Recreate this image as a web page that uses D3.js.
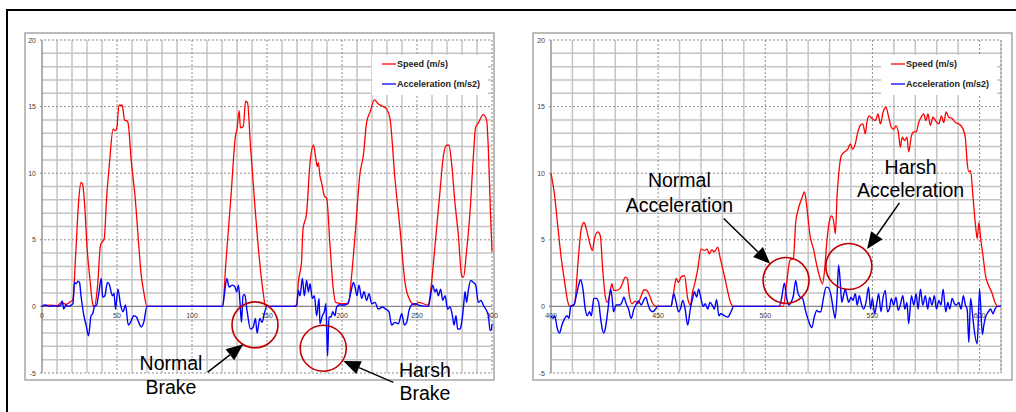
<!DOCTYPE html>
<html>
<head>
<meta charset="utf-8">
<script src="https://cdn.jsdelivr.net/npm/d3@7"></script>
<style>
  body { margin: 0; background: #fff; }
  svg { display: block; }
</style>
</head>
<body>
<script>
// values
const leftSpeed = [[0,0],[5,0.1],[10,0.05],[13,0.3],[16,0.15],[19,0.35],[20.6,0.5],[22.5,4],[24.5,8],[26,9.3],[27,9.2],[28.5,7.5],[30,4.5],[32,2],[34,0.1],[35,0],[37,1.5],[39,4.6],[41.5,5.1],[43,8],[45,10.8],[47.4,13.3],[49,13.2],[50,13.5],[51.3,15.1],[53.5,15.1],[55,14],[57,13.9],[57.5,13.7],[59.6,10.8],[62,8.3],[64.5,4.6],[66,2.5],[67.8,1.1],[70,0],[120.4,0],[122.6,3.3],[126,8.3],[129,12.8],[130,13.3],[131.4,14.7],[132.3,13.4],[134.2,13.5],[135.7,15.4],[137,15.3],[139,12],[142.3,7],[145.6,2.8],[147.5,1],[149,0],[169.8,0],[170.9,1.8],[173,3.3],[174,5.8],[176.4,7],[178.7,10.8],[181,12.1],[182.4,11.2],[183.5,10.5],[184.2,10.8],[185.3,9.8],[186.4,9.3],[188.2,8.3],[189.8,8.1],[192,4.6],[194.2,1.3],[195.8,0.3],[199.8,0.2],[204.2,0.2],[206.4,2.3],[208.7,5.3],[212,10],[214.2,11.3],[216.4,13.8],[218.7,14.6],[221.6,15.5],[224.2,15.2],[227.6,15],[229.8,14.8],[232,14.1],[235.3,9.6],[238.7,5.8],[242,1.8],[245.3,0.45],[248.7,0.1],[251,0.3],[257.6,0.1],[258.7,0.8],[261,3.3],[263,5.8],[265.3,8.6],[267.6,11.3],[269.8,12.1],[271.3,12.1],[273,10.8],[275.3,7.8],[277.6,5.3],[279.8,2.3],[281,2.2],[283,4.1],[285.3,7],[287.6,11.3],[289,13.4],[291,13.8],[294.2,14.4],[296.4,14],[297.5,12],[299,7],[300,4.1]];

const leftAccel = [[0,0],[2,0.1],[5,0],[8,0.05],[11,0],[12.5,0.1],[13.5,0.4],[14.5,-0.2],[16,0.1],[17.3,0],[19.5,0.1],[20.6,0.2],[21.7,1.8],[22.8,1.7],[24,1.9],[25,1.8],[26,0.8],[28.3,-0.9],[29.4,-1.4],[31,-2.2],[32.7,-0.7],[33.8,-0.55],[35,0],[36.4,0.1],[38,1.1],[39.5,2.1],[40.4,0.7],[41.9,0.8],[43.6,1.8],[44.7,1.7],[47,0.8],[48,1.0],[49,-0.2],[50.6,1.3],[52.4,0.1],[54,-0.4],[55.7,0.1],[57.5,-1.4],[59,-1.2],[61.2,-0.7],[63,-0.8],[64.5,-1.2],[66.2,-1.55],[67.8,-1.2],[70,0],[120.4,0],[121.5,0.8],[123.2,2.1],[124.8,1.45],[127,1.6],[128.7,1.45],[129.8,1.1],[131,1.6],[132,0.3],[133,-1.2],[134,0.8],[135.1,0.9],[136.8,-0.4],[139,-1.7],[140.8,-1.55],[142.3,-0.9],[143.4,-2],[145.2,-0.9],[146.7,-1.2],[148.5,-0.4],[150,0],[168,0],[169.8,0.1],[170.9,1.2],[172,0.8],[173.6,2.1],[174.9,0.8],[176.4,1.95],[177.6,1.1],[178.7,1.7],[180.2,0.6],[181.6,0.8],[183.1,-0.7],[184.7,0.6],[185.3,-1.3],[186.9,-0.7],[188.2,-0.4],[189.3,0.2],[189.8,-1.7],[190.4,-3.7],[191.3,-0.8],[192.7,-0.8],[193.8,-0.4],[195.3,-0.7],[196.4,-0.05],[198,0.1],[202,0.1],[204.2,0.3],[206,1.1],[207.6,1.8],[208.7,1.45],[210,0.8],[211.3,1.6],[213.1,0.6],[214.7,1.1],[216.4,0.45],[218,0.95],[219.8,0.2],[222,0.3],[224.2,-0.2],[226.9,-0.05],[229.1,-0.2],[231.3,-0.4],[233.1,-1.4],[235.3,-1.2],[237.6,-1.3],[239.8,-0.55],[241.6,-1.4],[243.1,-1.2],[244.7,-0.3],[246.4,0.1],[248.7,0.2],[251,0.1],[257.6,0],[259,0.8],[260.4,1.6],[262,1.1],[263,1.3],[264.2,0.8],[265.8,1.3],[267.1,0.45],[268.7,0.8],[270.4,-0.2],[272,-0.05],[273.6,-0.7],[274.7,-1.4],[276,-0.7],[277.1,-1.7],[278.7,-1.7],[279.8,-1.2],[281.1,0.1],[282,1.1],[283.1,0.3],[284.2,1.2],[285.8,1.95],[287.6,1.8],[289.1,1.6],[290.9,0.3],[292.7,0.45],[294.2,0.1],[295.8,-0.2],[297.6,-0.7],[298.7,-1.8],[299.5,-1.8],[300,-1.3]];

const rightSpeed = [[400,10],[401.7,8.3],[403.3,5.8],[404.8,3.6],[406.4,1.8],[407.9,0.3],[408.7,0],[410.2,0.1],[411,0.2],[412.6,3.3],[414.1,5.8],[415.4,6.3],[416.5,5.8],[418,4.8],[419.3,4.2],[420.3,5.1],[421.9,5.6],[423,5.3],[424.2,2.6],[425.3,0.8],[426.2,0.3],[427.3,0.8],[428.4,1.7],[429.3,1.2],[430.4,1.2],[432,1.3],[433.5,1.8],[434.6,2.2],[435.6,2.1],[436.6,0.8],[437.7,0.2],[439.3,0.4],[440.5,0.2],[442.1,0.8],[443.5,1.25],[444.7,1.2],[446,0.8],[447.5,0.2],[449,0],[456,0],[457.3,1.1],[458.4,2.1],[459.5,1.8],[460.7,2.2],[462.3,2.3],[463.8,0.6],[465,0.1],[466.1,1.1],[466.9,1.6],[468.5,2.8],[470,4.3],[471.6,4.2],[472.8,4.3],[473.9,3.95],[475,4.25],[476.2,4.1],[477.8,4.45],[479,3.6],[480.9,2.3],[482.5,1.1],[484,0.2],[485.2,0],[508.4,0],[510,1.8],[511.5,3.45],[513.1,3.6],[514.2,6.3],[515.4,7.3],[517,8.1],[518.3,8.6],[519.3,7.6],[520.9,5.3],[522.5,4.3],[524,3.1],[525.6,2.1],[526.7,1.7],[527.6,2.6],[528.7,4.8],[529.8,6.3],[531,6.8],[532,6.3],[532.7,5.45],[533.5,8.3],[534.2,9.8],[535.4,11.3],[537,11.6],[538.5,11.8],[539.7,12.2],[540.7,11.8],[542,12.2],[543.2,13.1],[544.4,13.6],[545.5,13.7],[546.7,12.95],[547.4,13.8],[548.5,14.3],[549.8,14.1],[551.4,13.95],[552.6,14.45],[553.7,13.7],[555,14.6],[556.3,14.95],[557.6,14.2],[558.8,13.45],[559.9,13.3],[561,13.55],[562.2,12.95],[563,11.95],[563.9,12.7],[565,12.45],[566.1,12.7],[566.9,11.6],[568.2,12.8],[569.3,13.1],[570.4,13.1],[571.6,13.8],[572.7,14.2],[573.9,14.45],[575,13.95],[575.9,14.45],[577,13.6],[578.3,14.2],[579.4,13.95],[581,13.7],[582.2,14.3],[583.3,13.8],[584.4,14.6],[585.6,14.2],[587.2,14.1],[588.8,13.8],[590.3,13.7],[591.9,13.45],[593.4,12.6],[594.2,10.8],[595,10.1],[595.8,10.2],[596.9,8.3],[598.1,6.1],[598.9,5.1],[599.7,6.3],[600.5,5.1],[601.6,3.8],[602.8,2.3],[604.1,1.6],[605.6,1.1],[607.2,0.3],[608.3,0],[610,0]];

const rightAccel = [[400,-0.7],[401,-0.9],[401.7,-0.7],[403,-1.7],[404,-2],[405.1,-1.4],[406.4,-0.9],[407.5,-0.7],[408.4,-0.9],[409.2,0],[410.7,0.1],[411.8,0.8],[412.9,1.6],[413.8,2],[414.9,1.3],[416,-0.2],[416.9,-0.7],[418,-0.4],[418.8,-0.7],[420,0.6],[421.1,0.6],[422.2,0.3],[423.4,-1.2],[424.5,-2],[425.3,-1.7],[426.6,-0.2],[427.8,1.3],[428.4,0.8],[429.2,-0.4],[430.4,0.1],[432,0.1],[433.1,0.3],[434,0.7],[435.1,0.2],[436.2,-0.2],[437.4,-0.9],[438.7,-0.2],[439.9,0.2],[440.8,0.4],[442.1,0.1],[443.2,0.45],[444.3,0.7],[445.2,0.2],[446.4,-0.3],[447.5,-0.4],[448.8,-0.2],[449.8,0],[456,0],[457.3,0.95],[458.4,0.3],[459.5,-0.4],[460.4,-0.2],[461.5,0.45],[462.6,-0.2],[463.8,-1.4],[465,-0.2],[466.1,0.6],[466.9,1.1],[468,0.7],[468.9,1.3],[470,0.6],[471,0],[472,0.2],[473.1,-0.2],[474.2,0.3],[475.2,0.1],[476.2,-0.2],[477.3,0.5],[478.3,-0.7],[479.3,-0.55],[480.9,-0.7],[482.5,-0.8],[484,-0.4],[485.2,0],[506.5,0],[507.6,0.6],[508.9,1.75],[510,0.6],[511.1,0.1],[512,0.3],[513.1,0.8],[514.2,1.95],[515.1,1.1],[516.2,0.7],[517.4,0.6],[518.6,-0.2],[519.8,-0.9],[520.9,-1.4],[521.7,-1.6],[523,-0.7],[524.1,-0.3],[524.8,-0.4],[525.9,-0.4],[527.1,0.6],[528.4,1.45],[529.5,1.4],[530.7,0.8],[531.8,-0.3],[532.6,-0.9],[533.5,0.8],[534.2,3.1],[535,1.8],[535.7,0.3],[536.5,0.8],[537.3,1.3],[538.1,0.8],[538.9,0.3],[540,0.7],[540.9,0.45],[542,0.95],[542.9,0.1],[543.9,0.8],[544.8,0.2],[545.9,-0.2],[547,0.3],[548.2,1.45],[549.1,-0.2],[550,0.6],[551,-0.55],[552.1,0.3],[552.9,0.95],[554,-0.4],[554.9,0.6],[556,1.2],[557,-0.4],[557.9,-0.2],[558.8,0.6],[559.9,0.1],[561,0.7],[562,-0.3],[563,0.1],[564.2,0.8],[565.1,-0.2],[566.1,0.3],[566.9,-1.3],[568.2,0.8],[569.3,0.1],[570.4,0.95],[571.3,-0.2],[572.4,1.3],[573.5,0.1],[574.7,0.8],[575.8,-0.2],[576.7,0.7],[577.8,0.1],[578.9,0.8],[579.9,-0.2],[581,0.45],[582,0.1],[583,1.3],[584.2,-0.4],[585.2,0.3],[586.1,-0.2],[587.2,0.6],[588.3,0.2],[589.2,0.1],[590.3,0.3],[591.4,-0.2],[592.4,0.8],[593.4,0.1],[594.2,-0.2],[595,-2.7],[595.8,0.6],[596.6,-0.4],[597.3,-1.5],[598.9,-2.8],[600,1.3],[601.3,-2.1],[602,-1.4],[602.8,-0.8],[604.1,-0.4],[605.2,-0.2],[606.2,-0.55],[607.2,-0.2],[608.3,0],[610,0]];

const yTicks = [-5, 0, 5, 10, 15, 20];
const leftXTicks = [0, 50, 100, 150, 200, 250, 300];
const rightXTicks = [400, 450, 500, 550, 600];
const seriesNames = ["Speed (m/s)", "Acceleration (m/s2)"];
const seriesColors = ["#ff0000", "#0000ff"];

// annotations in data units: label lines, circle centre, arrow from -> to
const leftNotes = [
  { lines: ["Normal", "Brake"], tx: 86, ty: [-4.8, -6.6], cx: 142, cy: -1.39, from: [110.5, -4.93], to: [134.2, -2.85] },
  { lines: ["Harsh", "Brake"], tx: 255.3, ty: [-5.3, -7.0], cx: 187.5, cy: -3.14, from: [234.2, -5.7], to: [200.9, -4.1] }
];
const rightNotes = [
  { lines: ["Normal", "Acceleration"], tx: 459.9, ty: [8.95, 7.1], cx: 509.7, cy: 1.95, from: [480.6, 6.6], to: [502.3, 3.2] },
  { lines: ["Harsh", "Acceleration"], tx: 567.8, ty: [9.95, 8.2], cx: 539, cy: 3.0, from: [562.6, 7.77], to: [547.5, 4.3] }
];

const width = 1016;
const height = 412;

const panels = [
  { frame: [25, 33, 494, 380], plot: [42, 40, 492, 373], xDomain: [0, 300], xTicks: leftXTicks,
    speed: leftSpeed, accel: leftAccel, notes: leftNotes },
  { frame: [533, 33, 1012, 380], plot: [551, 40, 1001, 373], xDomain: [400, 610], xTicks: rightXTicks,
    speed: rightSpeed, accel: rightAccel, notes: rightNotes }
];

const svg = d3.select('body')
  .append('svg')
  .attr('width', width)
  .attr('height', height);

// outer frame of the figure
svg.append('path')
  .attr('d', `M7,${height} L7,10 L${width},10`)
  .attr('fill', 'none')
  .attr('stroke', '#000')
  .attr('stroke-width', 2);

panels.forEach(p => {
  const [fx0, fy0, fx1, fy1] = p.frame;
  const [px0, py0, px1, py1] = p.plot;

  const x = d3.scaleLinear().domain(p.xDomain).range([px0, px1]);
  const y = d3.scaleLinear().domain([-5, 20]).range([py1, py0]);

  svg.append('rect')
    .attr('x', fx0).attr('y', fy0)
    .attr('width', fx1 - fx0).attr('height', fy1 - fy0)
    .attr('fill', '#fff')
    .attr('stroke', '#a6a6a6')
    .attr('stroke-width', 1.5);

  const g = svg.append('g');

  // minor grid
  const xMinor = d3.range(p.xDomain[0], p.xDomain[1] + 0.1, 10).filter(v => v % 50 !== 0);
  const yMinor = d3.range(-5, 20.1, 1).filter(v => v % 5 !== 0);

  g.selectAll('.vx').data(xMinor).enter().append('line')
    .attr('x1', d => x(d)).attr('x2', d => x(d))
    .attr('y1', py0).attr('y2', py1)
    .attr('stroke', '#c4c4c4').attr('stroke-width', 1.5);

  g.selectAll('.hy').data(yMinor).enter().append('line')
    .attr('x1', px0).attr('x2', px1)
    .attr('y1', d => y(d)).attr('y2', d => y(d))
    .attr('stroke', '#c4c4c4').attr('stroke-width', 1.5);

  // major dashed grid
  const xMajor = d3.range(p.xDomain[0], p.xDomain[1] + 0.1, 10).filter(v => v % 50 === 0 && v !== p.xDomain[0]);
  if (p.xDomain[1] % 50 !== 0) xMajor.push(p.xDomain[1]);

  g.selectAll('.vmaj').data(xMajor).enter().append('line')
    .attr('x1', d => x(d)).attr('x2', d => x(d))
    .attr('y1', py0).attr('y2', py1)
    .attr('stroke', '#8c8c8c').attr('stroke-width', 1)
    .attr('stroke-dasharray', '2,2');

  g.selectAll('.hmaj').data(yTicks.filter(v => v !== 0)).enter().append('line')
    .attr('x1', px0 - 2).attr('x2', px1)
    .attr('y1', d => y(d)).attr('y2', d => y(d))
    .attr('stroke', '#8c8c8c').attr('stroke-width', 1)
    .attr('stroke-dasharray', '2,2');

  // axes lines
  g.append('line')
    .attr('x1', px0 - 2).attr('x2', px1)
    .attr('y1', y(0)).attr('y2', y(0))
    .attr('stroke', '#868686').attr('stroke-width', 1.3);
  g.append('line')
    .attr('x1', x(p.xDomain[0])).attr('x2', x(p.xDomain[0]))
    .attr('y1', py0).attr('y2', py1)
    .attr('stroke', '#868686').attr('stroke-width', 1.3);

  // tick labels
  g.selectAll('.yl').data(yTicks).enter().append('text')
    .attr('x', px0 - 6)
    .attr('y', d => y(d) + 2.5)
    .attr('text-anchor', 'end')
    .attr('font-family', 'Liberation Sans, Arial, sans-serif')
    .attr('font-size', 7)
    .attr('fill', '#404040')
    .text(d => d);

  g.selectAll('.xl').data(p.xTicks).enter().append('text')
    .attr('x', d => x(d))
    .attr('y', y(0) + 12)
    .attr('text-anchor', 'middle')
    .attr('font-family', 'Liberation Sans, Arial, sans-serif')
    .attr('font-size', 7)
    .attr('fill', '#404040')
    .text(d => d);

  // series
  const line = d3.line()
    .x(d => x(d[0]))
    .y(d => y(d[1]))
    .curve(d3.curveMonotoneX);

  g.append('path')
    .datum(p.speed)
    .attr('d', line)
    .attr('fill', 'none')
    .attr('stroke', seriesColors[0])
    .attr('stroke-width', 1.3);

  g.append('path')
    .datum(p.accel)
    .attr('d', line)
    .attr('fill', 'none')
    .attr('stroke', seriesColors[1])
    .attr('stroke-width', 1.4);

  // legend
  const lx = px1 - 120;
  const leg = g.append('g').attr('transform', `translate(${lx}, 55)`);
  leg.append('rect')
    .attr('width', 116).attr('height', 40)
    .attr('fill', '#fff');
  seriesNames.forEach((name, i) => {
    leg.append('line')
      .attr('x1', 10).attr('x2', 24)
      .attr('y1', 9 + i * 20).attr('y2', 9 + i * 20)
      .attr('stroke', seriesColors[i]).attr('stroke-width', 1.3);
    leg.append('text')
      .attr('x', 25)
      .attr('y', 12 + i * 20)
      .attr('font-family', 'Liberation Sans Narrow, Liberation Sans, Arial, sans-serif')
      .attr('font-size', 9)
      .attr('font-weight', 'bold')
      .attr('fill', '#222')
      .text(name);
  });

  // annotations
  p.notes.forEach(n => {
    svg.append('circle')
      .attr('cx', x(n.cx)).attr('cy', y(n.cy))
      .attr('r', 23)
      .attr('fill', 'none')
      .attr('stroke', '#c00000')
      .attr('stroke-width', 1.6);

    n.lines.forEach((t, i) => {
      svg.append('text')
        .attr('x', x(n.tx))
        .attr('y', y(n.ty[i]))
        .attr('text-anchor', 'middle')
        .attr('font-family', 'Liberation Sans, Arial, sans-serif')
        .attr('font-size', 19.5)
        .attr('fill', '#000')
        .text(t);
    });

    const x1 = x(n.from[0]), y1 = y(n.from[1]);
    const x2 = x(n.to[0]), y2 = y(n.to[1]);
    const ang = Math.atan2(y2 - y1, x2 - x1);
    const headLen = 17, headW = 7;
    const bx = x2 - headLen * Math.cos(ang), by = y2 - headLen * Math.sin(ang);

    svg.append('line')
      .attr('x1', x1).attr('y1', y1)
      .attr('x2', bx).attr('y2', by)
      .attr('stroke', '#000').attr('stroke-width', 1.5);

    svg.append('path')
      .attr('d', `M${x2},${y2} L${bx + headW * Math.sin(ang)},${by - headW * Math.cos(ang)} L${bx - headW * Math.sin(ang)},${by + headW * Math.cos(ang)} Z`)
      .attr('fill', '#000');
  });
});
</script>
</body>
</html>
